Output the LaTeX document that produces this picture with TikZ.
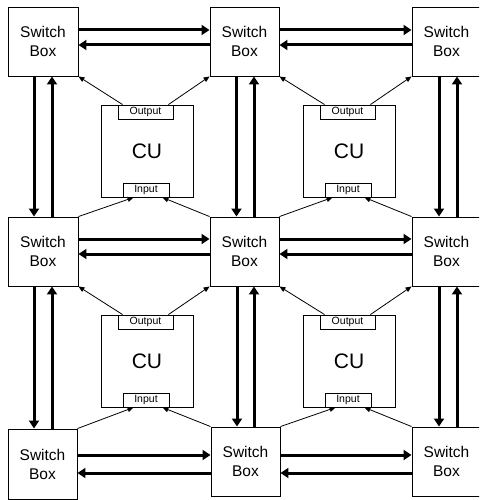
\documentclass[tikz,border=0pt]{standalone}
\usepackage{fontspec}
\setmainfont{Liberation Sans}
\usetikzlibrary{arrows.meta,calc}

\tikzset{
  sbox/.style={draw, line width=0.9pt, fill=white, minimum width=69pt, minimum height=69pt,
    inner sep=0pt, align=center, font=\fontsize{15.5}{19}\selectfont},
  cubox/.style={draw, line width=0.9pt, minimum width=92pt, minimum height=92pt,
    inner sep=0pt, font=\fontsize{21}{21}\selectfont},
  portbox/.style={draw, line width=0.9pt, fill=white, minimum height=14pt, inner sep=0pt,
    font=\fontsize{10.5}{10.5}\selectfont},
  bus/.style={line width=3pt, -{Triangle[length=8pt,width=10pt]}},
  link/.style={line width=0.8pt, -{Triangle[length=6pt,width=5pt]}},
}

\begin{document}
\begin{tikzpicture}[x=1pt,y=-1pt]
\useasboundingbox (0,0) rectangle (479,500);
\clip (0,0) rectangle (479,500);

% switch boxes
\node[sbox, minimum width=70pt] (sbTL) at (43,41.5)    {Switch\\Box};
\node[sbox] (sbTM) at (244.5,41.5)  {Switch\\Box};
\node[sbox] (sbTR) at (446.5,41.5)  {Switch\\Box};
\node[sbox, minimum width=70pt] (sbML) at (43,251.5)   {Switch\\Box};
\node[sbox] (sbMM) at (244.5,251.5) {Switch\\Box};
\node[sbox] (sbMR) at (446.5,251.5) {Switch\\Box};
\node[sbox, minimum height=70pt] (sbBL) at (42.5,464)  {Switch\\Box};
\node[sbox] (sbBM) at (245.5,461.5) {Switch\\Box};
\node[sbox] (sbBR) at (446.5,461.5) {Switch\\Box};

% compute units with their output and input ports
\foreach \n/\cx/\cy in {A/147/151, B/349/151, C/147/361, D/349/361}{
  \node[cubox] (cu\n) at (\cx,\cy) {CU};
  \node[portbox, minimum width=55pt, anchor=north] (out\n) at ($(cu\n.north)+(-1.5,0)$) {Output};
  \node[portbox, minimum width=46pt, anchor=south] (in\n) at ($(cu\n.south)+(-1,0)$) {Input};
}

% horizontal buses
\draw[bus] (sbTL.east |- 0,30)  -- (sbTM.west |- 0,30);
\draw[bus] (sbTM.west |- 0,45)  -- (sbTL.east |- 0,45);
\draw[bus] (sbTM.east |- 0,30)  -- (sbTR.west |- 0,30);
\draw[bus] (sbTR.west |- 0,45)  -- (sbTM.east |- 0,45);

\draw[bus] (sbML.east |- 0,239) -- (sbMM.west |- 0,239);
\draw[bus] (sbMM.west |- 0,254) -- (sbML.east |- 0,254);
\draw[bus] (sbMM.east |- 0,239) -- (sbMR.west |- 0,239);
\draw[bus] (sbMR.west |- 0,254) -- (sbMM.east |- 0,254);

\draw[bus] (sbBL.east |- 0,455) -- (sbBM.west |- 0,455);
\draw[bus] (sbBM.west |- 0,473) -- (sbBL.east |- 0,473);
\draw[bus] (sbBM.east |- 0,455) -- (sbBR.west |- 0,455);
\draw[bus] (sbBR.west |- 0,473) -- (sbBM.east |- 0,473);

% vertical buses
\draw[bus] (34,0 |- sbTL.south)  -- (34,0 |- sbML.north);
\draw[bus] (52,0 |- sbML.north)  -- (52,0 |- sbTL.south);
\draw[bus] (236.5,0 |- sbTM.south) -- (236.5,0 |- sbMM.north);
\draw[bus] (254,0 |- sbMM.north) -- (254,0 |- sbTM.south);
\draw[bus] (439,0 |- sbTR.south) -- (439,0 |- sbMR.north);
\draw[bus] (457,0 |- sbMR.north) -- (457,0 |- sbTR.south);

\draw[bus] (34,0 |- sbML.south)  -- (34,0 |- sbBL.north);
\draw[bus] (52,0 |- sbBL.north)  -- (52,0 |- sbML.south);
\draw[bus] (237,0 |- sbMM.south) -- (237,0 |- sbBM.north);
\draw[bus] (254,0 |- sbBM.north) -- (254,0 |- sbMM.south);
\draw[bus] (439,0 |- sbMR.south) -- (439,0 |- sbBR.north);
\draw[bus] (457,0 |- sbBR.north) -- (457,0 |- sbMR.south);

% links from outputs to switch boxes above
\draw[link] ($(outA.north west)+(5,0)$) -- (sbTL.south east);
\draw[link] ($(outA.north east)+(-5,0)$) -- (sbTM.south west);
\draw[link] ($(outB.north west)+(5,0)$) -- (sbTM.south east);
\draw[link] ($(outB.north east)+(-5,0)$) -- (sbTR.south west);
\draw[link] ($(outC.north west)+(5,0)$) -- (sbML.south east);
\draw[link] ($(outC.north east)+(-5,0)$) -- (sbMM.south west);
\draw[link] ($(outD.north west)+(5,0)$) -- (sbMM.south east);
\draw[link] ($(outD.north east)+(-5,0)$) -- (sbMR.south west);

% links from switch boxes below to inputs
\draw[link] (sbML.north east) -- ($(inA.south west)+(11,0)$);
\draw[link] (sbMM.north west) -- ($(inA.south east)+(-7,0)$);
\draw[link] (sbMM.north east) -- ($(inB.south west)+(8,0)$);
\draw[link] (sbMR.north west) -- ($(inB.south east)+(-7,0)$);
\draw[link] (sbBL.north east) -- ($(inC.south west)+(11,0)$);
\draw[link] (sbBM.north west) -- ($(inC.south east)+(-7,0)$);
\draw[link] (sbBM.north east) -- ($(inD.south west)+(11,0)$);
\draw[link] (sbBR.north west) -- ($(inD.south east)+(-7,0)$);
\end{tikzpicture}
\end{document}
